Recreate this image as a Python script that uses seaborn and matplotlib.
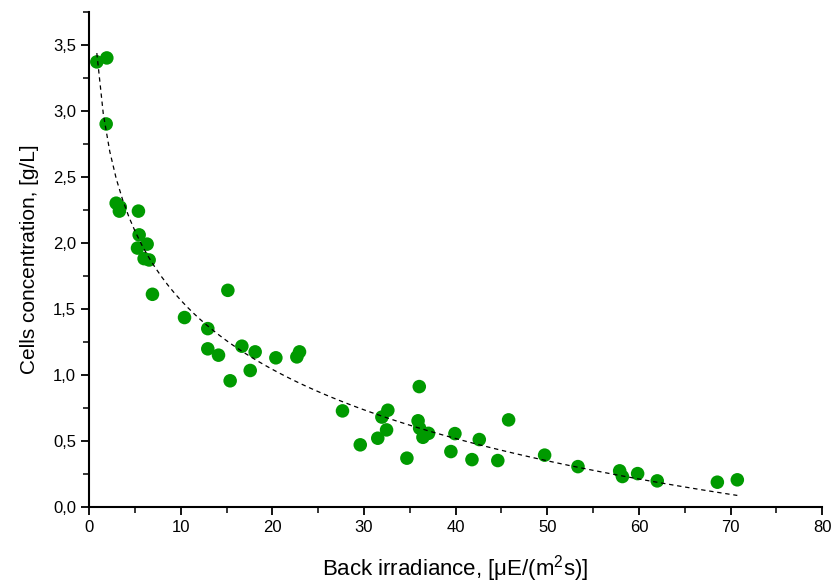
import matplotlib
matplotlib.use("Agg")
import matplotlib.pyplot as plt
import seaborn as sns
import pandas as pd
from matplotlib.ticker import MultipleLocator, FuncFormatter

irradiance = [0.84, 1.93, 1.86, 2.95, 3.4, 3.3, 5.38, 5.46, 6.33, 5.28, 6.0, 6.55, 6.91,
              15.14, 10.41, 12.95, 12.95, 14.12, 15.39, 16.67, 18.12, 17.58, 20.38, 22.67,
              22.96, 27.65, 29.59, 31.5, 31.95, 32.6, 32.46, 34.68, 36.03, 35.9, 36.07,
              36.43, 37.04, 39.48, 39.92, 41.78, 42.58, 44.6, 45.78, 49.71, 53.35, 57.9,
              58.2, 59.86, 62.0, 68.56, 70.74]
concentration = [3.37, 3.40, 2.90, 2.30, 2.27, 2.24, 2.24, 2.06, 1.99, 1.96, 1.88, 1.87, 1.61,
                 1.64, 1.434, 1.35, 1.197, 1.149, 0.955, 1.217, 1.174, 1.033, 1.129, 1.136,
                 1.174, 0.727, 0.47, 0.52, 0.68, 0.732, 0.583, 0.369, 0.911, 0.652, 0.596,
                 0.527, 0.557, 0.419, 0.555, 0.358, 0.51, 0.351, 0.659, 0.392, 0.305, 0.273,
                 0.23, 0.252, 0.197, 0.187, 0.205]

df = pd.DataFrame({"x": irradiance, "y": concentration})

sns.set_theme(style="ticks")
plt.rcParams["font.family"] = ["Liberation Sans", "DejaVu Sans"]
plt.rcParams["mathtext.fontset"] = "custom"
plt.rcParams["mathtext.rm"] = "Liberation Sans"
plt.rcParams["mathtext.it"] = "Liberation Sans:italic"

fig = plt.figure(figsize=(8.33, 5.86), dpi=100)
ax = fig.add_axes([0.107, 0.135, 0.88, 0.845])

sns.scatterplot(data=df, x="x", y="y", ax=ax, color="#009a00", s=95,
                edgecolor="none", zorder=2, legend=False)
sns.regplot(data=df, x="x", y="y", ax=ax, logx=True, ci=None, scatter=False,
            line_kws=dict(color="black", lw=0.9, ls=(0, (3.5, 3)), zorder=3))

ax.set_xlim(0, 80)
ax.set_ylim(0, 3.75)
ax.xaxis.set_major_locator(MultipleLocator(10))
ax.xaxis.set_minor_locator(MultipleLocator(5))
ax.yaxis.set_major_locator(MultipleLocator(0.5))
ax.yaxis.set_minor_locator(MultipleLocator(0.25))
ax.yaxis.set_major_formatter(FuncFormatter(lambda v, p: f"{v:.1f}".replace(".", ",")))
ax.xaxis.set_major_formatter(FuncFormatter(lambda v, p: f"{v:.0f}"))

for s in ["top", "right"]:
    ax.spines[s].set_visible(False)
for s in ["left", "bottom"]:
    ax.spines[s].set_color("black")
    ax.spines[s].set_linewidth(1.5)

ax.tick_params(which="major", direction="out", length=6, width=1.3, colors="black",
               labelsize=12)
ax.tick_params(which="minor", direction="out", length=4, width=1.1, colors="black")

ax.set_xlabel("Back irradiance, [μE/(m$^2$s)]", fontsize=16, color="black", labelpad=13)
ax.set_ylabel("Cells concentration, [g/L]", fontsize=15, color="black", labelpad=10)

fig.savefig("out.png", dpi=100)
